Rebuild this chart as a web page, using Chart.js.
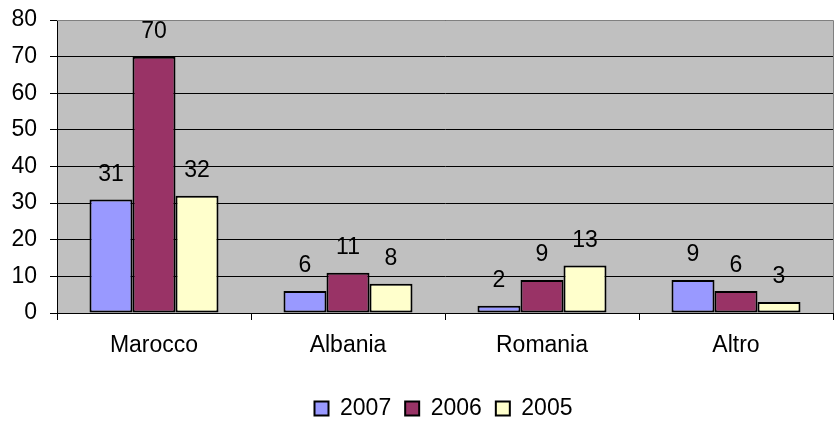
<!DOCTYPE html>
<html>
<head>
<meta charset="utf-8">
<script src="https://cdn.jsdelivr.net/npm/chart.js@4.4.1/dist/chart.umd.min.js"></script>
<style>
html,body{margin:0;padding:0;background:#fff;}
#wrap{width:840px;height:421px;}
</style>
</head>
<body>
<div id="wrap"><canvas id="c" width="840" height="421"></canvas></div>
<script>
const categories = ["Marocco", "Albania", "Romania", "Altro"];
const seriesNames = ["2007", "2006", "2005"];
const values2007 = [31, 6, 2, 9];
const values2006 = [70, 11, 9, 6];
const values2005 = [32, 8, 13, 3];
const yTicks = [0, 10, 20, 30, 40, 50, 60, 70, 80];

const FONT = "'Liberation Sans', Arial, sans-serif";
const colors = ["#9999FF", "#993366", "#FFFFCC"];
const seriesValues = [values2007, values2006, values2005];

const plotBg = {
  id: 'plotBg',
  beforeDraw(chart) {
    const {ctx, chartArea: a} = chart;
    ctx.save();
    ctx.fillStyle = '#C0C0C0';
    ctx.fillRect(a.left, a.top, a.right - a.left, a.bottom - a.top);
    ctx.restore();
  },
  afterDraw(chart) {
    const {ctx, chartArea: a} = chart;
    ctx.save();
    ctx.strokeStyle = '#808080';
    ctx.lineWidth = 1;
    ctx.beginPath();
    ctx.moveTo(a.left, Math.round(a.top) + 0.5);
    ctx.lineTo(Math.round(a.right) + 0.5, Math.round(a.top) + 0.5);
    ctx.lineTo(Math.round(a.right) + 0.5, a.bottom);
    ctx.stroke();
    ctx.restore();
  }
};

const valueLabels = {
  id: 'valueLabels',
  afterDatasetsDraw(chart) {
    const ctx = chart.ctx;
    ctx.save();
    ctx.font = "23px " + FONT;
    ctx.fillStyle = '#000';
    ctx.textAlign = 'center';
    ctx.textBaseline = 'middle';
    chart.data.datasets.forEach((ds, i) => {
      chart.getDatasetMeta(i).data.forEach((bar, j) => {
        ctx.fillText(String(ds.data[j]), bar.x, bar.y - 25);
      });
    });
    ctx.restore();
  }
};

const legendShift = {
  id: 'legendShift',
  afterLayout(chart) {
    const l = chart.legend;
    if (l) { l.left += 27; l.right += 27; }
  }
};

new Chart(document.getElementById('c'), {
  type: 'bar',
  data: {
    labels: categories,
    datasets: seriesNames.map((name, i) => ({
      label: name,
      data: seriesValues[i],
      backgroundColor: colors[i],
      borderColor: '#000',
      borderWidth: 2,
      borderSkipped: false,
      categoryPercentage: 0.665,
      barPercentage: 1.0
    }))
  },
  options: {
    responsive: false,
    animation: false,
    devicePixelRatio: 1,
    layout: { padding: { top: 20, right: 7, left: 0, bottom: -9 } },
    plugins: {
      tooltip: { enabled: false },
      legend: {
        position: 'bottom',
        labels: {
          font: { family: FONT, size: 23, lineHeight: 1 },
          color: '#000',
          boxWidth: 14,
          boxHeight: 14,
          padding: 14
        }
      }
    },
    scales: {
      x: {
        offset: true,
        grid: {
          offset: true,
          drawOnChartArea: false,
          drawTicks: true,
          tickLength: 7,
          color: '#000',
          lineWidth: 1
        },
        border: { color: '#000', width: 1 },
        ticks: {
          font: { family: FONT, size: 23, lineHeight: 1.2 },
          color: '#000',
          padding: 12,
          maxRotation: 0
        },
        afterFit(scale) { scale.height = 70; }
      },
      y: {
        min: 0,
        max: 80,
        afterBuildTicks(scale) { scale.ticks = yTicks.map(v => ({ value: v })); },
        grid: {
          color: '#000',
          lineWidth: 1,
          tickLength: 7
        },
        border: { color: '#000', width: 1 },
        ticks: {
          font: { family: FONT, size: 23 },
          color: '#000',
          padding: 13
        },
        afterFit(scale) {
          scale.width = 57;
          scale.paddingTop = 0;
          scale.paddingBottom = 0;
        }
      }
    }
  },
  plugins: [plotBg, valueLabels, legendShift]
});
</script>
</body>
</html>
